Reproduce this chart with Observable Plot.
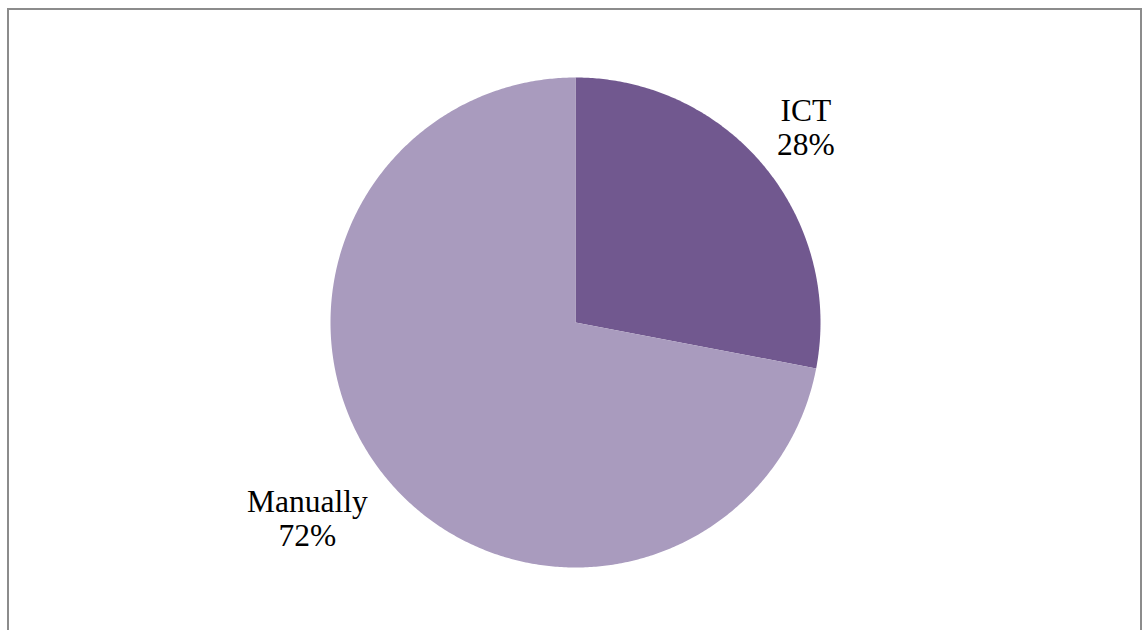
<!DOCTYPE html>
<html>
<head>
<meta charset="utf-8">
<script src="https://cdn.jsdelivr.net/npm/d3@7"></script>
<script src="https://cdn.jsdelivr.net/npm/@observablehq/plot@0.6"></script>
<style>
  html, body { margin: 0; padding: 0; background: #fff; overflow: hidden; width: 1144px; height: 630px; }
  #frame { position: absolute; left: 7px; top: 8px; width: 1135px; height: 700px; border: 2px solid #8c8c8c; box-sizing: border-box; }
  #chart { position: absolute; left: 0; top: 0; }
</style>
</head>
<body>
<div id="frame"></div>
<div id="chart"></div>
<script>
const categories = ["ICT", "Manually"];
const values = [28, 72];
const colors = ["#71588f", "#a99bbe"];

const total = d3.sum(values);
// slices clockwise from 12 o'clock
let acc = 0;
const slices = categories.map((c, i) => {
  const a0 = acc / total * 2 * Math.PI;
  acc += values[i];
  const a1 = acc / total * 2 * Math.PI;
  return {category: c, value: values[i], a0, a1};
});

// polygon outline for each slice (unit radius)
const outline = [];
for (const s of slices) {
  outline.push({category: s.category, x: 0, y: 0});
  const n = Math.max(2, Math.ceil((s.a1 - s.a0) / (Math.PI / 360)));
  for (let k = 0; k <= n; k++) {
    const a = s.a0 + (s.a1 - s.a0) * k / n;
    outline.push({category: s.category, x: Math.sin(a), y: Math.cos(a)});
  }
  outline.push({category: s.category, x: 0, y: 0});
}

// Excel-like outside-end labels: box corner placed just outside the rim
const fontSize = 31.5;
const unitPx = 245;
const labels = slices.map(s => {
  const m = (s.a0 + s.a1) / 2;
  const text = `${s.category}\n${Math.round(s.value / total * 100)}%`;
  const maxChars = d3.max(text.split("\n"), l => l.length);
  const halfW = maxChars * 0.24 * fontSize / unitPx;
  const halfH = 0.75 * fontSize / unitPx;
  const px = 1.1 * Math.sin(m), py = 1.1 * Math.cos(m);
  return {text, x: px + Math.sign(Math.sin(m)) * halfW, y: py + Math.sign(Math.cos(m)) * halfH};
});

const chart = Plot.plot({
  width: 1144,
  height: 630,
  margin: 0,
  x: {domain: [-1, 1], range: [575 - unitPx, 575 + unitPx], axis: null},
  y: {domain: [-1, 1], range: [322 + unitPx, 322 - unitPx], axis: null},
  color: {domain: categories, range: colors},
  marks: [
    Plot.line(outline, {x: "x", y: "y", z: "category", fill: "category", stroke: "none", curve: "linear"}),
    Plot.text(labels, {x: "x", y: "y", text: "text", fontSize, fontFamily: "'Liberation Serif', 'Times New Roman', serif", fill: "#000", lineHeight: 1.1, textAnchor: "middle", lineAnchor: "middle"})
  ]
});
chart.style.background = "transparent";
document.getElementById("chart").append(chart);
</script>
</body>
</html>
